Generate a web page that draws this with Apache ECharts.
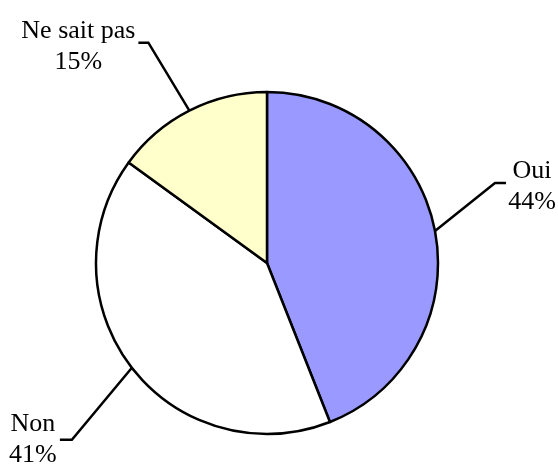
<!DOCTYPE html>
<html>
<head>
<meta charset="utf-8">
<script src="https://cdn.jsdelivr.net/npm/echarts@6/dist/echarts.min.js"></script>
<style>
html,body{margin:0;padding:0;background:#fff;}
#chart{width:558px;height:464px;}
</style>
</head>
<body>
<div id="chart"></div>
<script>
const categories = ['Oui', 'Non', 'Ne sait pas'];
const values = [44, 41, 15];
const colors = ['#9999FF', '#FFFFFF', '#FFFFCC'];

// leader-line layout offsets relative to the slice's edge point (layout only)
const leaderLayout = [
  { bend: [60, -48], end: [71, -48], label: [97, -44] },
  { bend: [-60, 72], end: [-72, 72], label: [-99, 72] },
  { bend: [-41, -68], end: [-51, -68], label: [-111, -64] }
];

const chart = echarts.init(document.getElementById('chart'), null, { renderer: 'canvas' });
chart.setOption({
  backgroundColor: '#ffffff',
  animation: false,
  series: [{
    type: 'pie',
    center: [267, 263],
    radius: 171,
    startAngle: 90,
    clockwise: true,
    avoidLabelOverlap: false,
    data: categories.map((c, i) => ({
      name: c,
      value: values[i],
      itemStyle: { color: colors[i] }
    })),
    itemStyle: { borderColor: '#000', borderWidth: 2.5 },
    emphasis: { disabled: true },
    label: {
      show: true,
      position: 'outside',
      formatter: '{b}\n{c}%',
      fontFamily: '"Liberation Serif", "Times New Roman", serif',
      fontSize: 26,
      lineHeight: 31,
      color: '#000',
      align: 'center'
    },
    labelLine: {
      show: true,
      length: 20,
      length2: 10,
      smooth: false,
      lineStyle: { color: '#000', width: 2.5 }
    },
    labelLayout: function (params) {
      const L = leaderLayout[params.dataIndex];
      const p0 = params.labelLinePoints[0];
      return {
        x: p0[0] + L.label[0],
        y: p0[1] + L.label[1],
        align: 'center',
        verticalAlign: 'middle',
        labelLinePoints: [
          [p0[0], p0[1]],
          [p0[0] + L.bend[0], p0[1] + L.bend[1]],
          [p0[0] + L.end[0], p0[1] + L.end[1]]
        ]
      };
    }
  }]
});
</script>
</body>
</html>
